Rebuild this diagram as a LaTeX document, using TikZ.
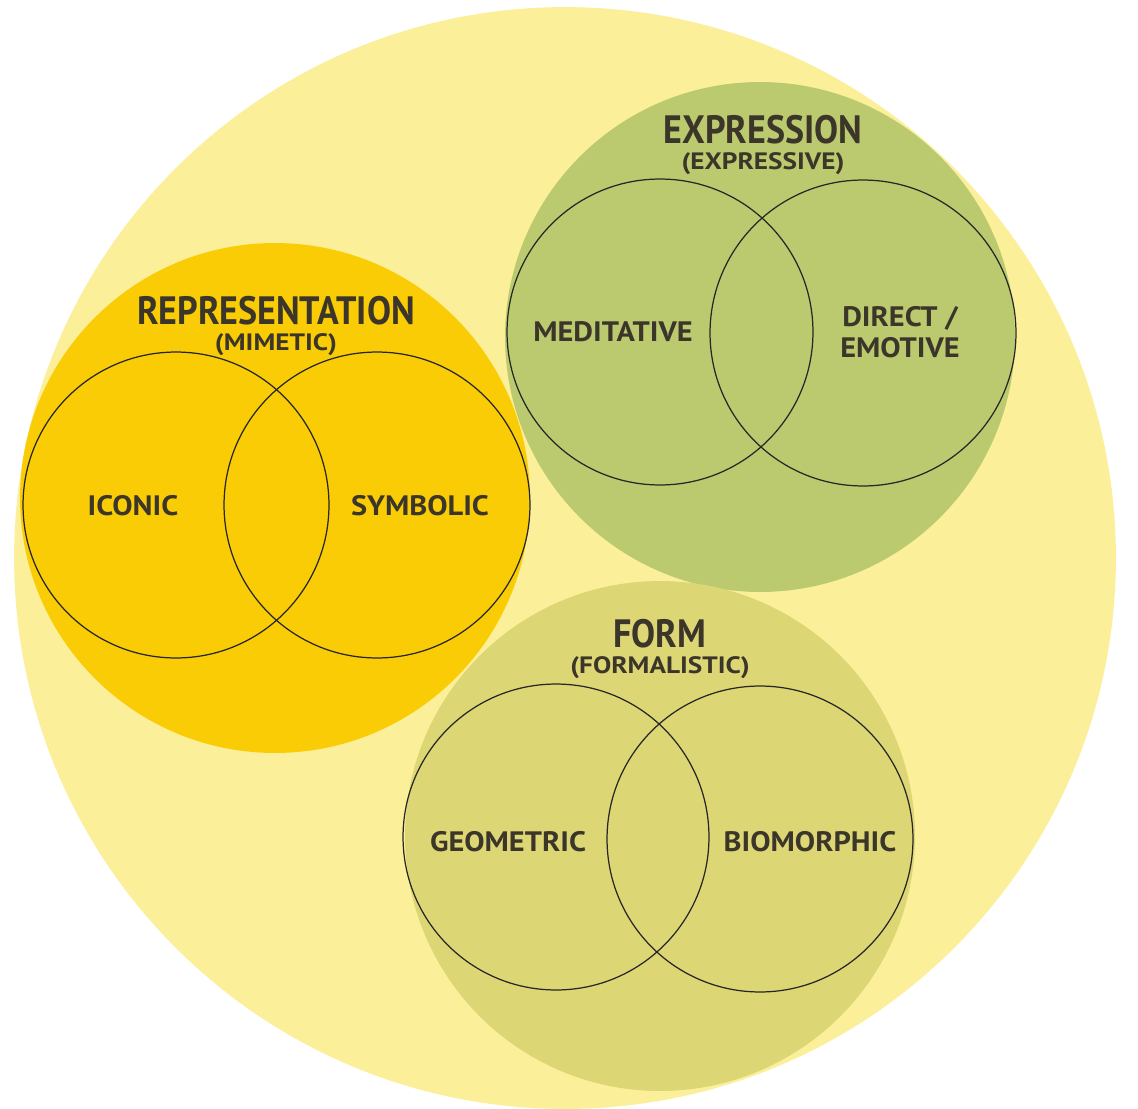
\documentclass[tikz,border=0pt]{standalone}
\usepackage{fontspec}
\newfontfamily\titlefont[FakeStretch=0.91]{PT Sans}
\newfontfamily\subfont[FakeStretch=1.15]{PT Sans}
\newfontfamily\tagfont[FakeStretch=1.08]{PT Sans}
\usetikzlibrary{positioning}

\definecolor{outerYellow}{HTML}{FCEF99}
\definecolor{mimeticGold}{HTML}{F9CC05}
\definecolor{expressGreen}{HTML}{BBCA6E}
\definecolor{formOlive}{HTML}{DDD674}
\definecolor{labelInk}{HTML}{3B352A}

\tikzset{
	group/.style={circle, minimum size=10.2cm, inner sep=0pt},
	sub/.style={circle, draw=black!85, line width=0.7pt, minimum size=6.12cm, inner sep=0pt},
	title/.style={font=\titlefont\bfseries\fontsize{22.5}{23}\selectfont, text=labelInk},
	subtitle/.style={font=\subfont\bfseries\fontsize{13.5}{14}\selectfont, text=labelInk},
	tag/.style={font=\tagfont\bfseries\fontsize{16}{18}\selectfont, text=labelInk, align=center}
}

\begin{document}
\begin{tikzpicture}[x=0.02cm, y=-0.02cm]
		\useasboundingbox (0,0) rectangle (1138,1108);
		\fill[white] (0,0) rectangle (1138,1108);
		
		\node (whole) at (565,558) [circle, minimum size=22.04cm, inner sep=0pt, fill=outerYellow]{};
		
		\node (representation) at (275,498) [group, fill=mimeticGold]{};
		\node (expression) at (760,337) [group, fill=expressGreen]{};
		\node (form) at (660,836) [group, fill=formOlive]{};
		
		%Venn pairs
		\node (iconicSet) at (176,505) [sub]{};
		\node (symbolicSet) at (377,505) [sub]{};
		\node (meditativeSet) at (660,332) [sub]{};
		\node (directSet) at (863,333) [sub]{};
		\node (geometricSet) at (556,837) [sub]{};
		\node (biomorphicSet) at (760,839) [sub]{};
		
		%Titles
		\node (repTitle) at (276,311) [title]{REPRESENTATION};
		\node (repSub) at (276,345) [subtitle]{(MIMETIC)};
		\node (expTitle) at (763,130) [title]{EXPRESSION};
		\node (expSub) at (763,164) [subtitle]{(EXPRESSIVE)};
		\node (formTitle) at (660,634) [title]{FORM};
		\node (formSub) at (660,668) [subtitle]{(FORMALISTIC)};
		
		%Labels
		\node (iconic) at (133,506) [tag]{ICONIC};
		\node (symbolic) at (420,506) [tag]{SYMBOLIC};
		\node (meditative) at (613,332) [tag]{MEDITATIVE};
		\node (direct) at (900,332) [tag]{DIRECT /\\EMOTIVE};
		\node (geometric) at (508,842) [tag]{GEOMETRIC};
		\node (biomorphic) at (810,842) [tag]{BIOMORPHIC};
		
\end{tikzpicture}
\end{document}
